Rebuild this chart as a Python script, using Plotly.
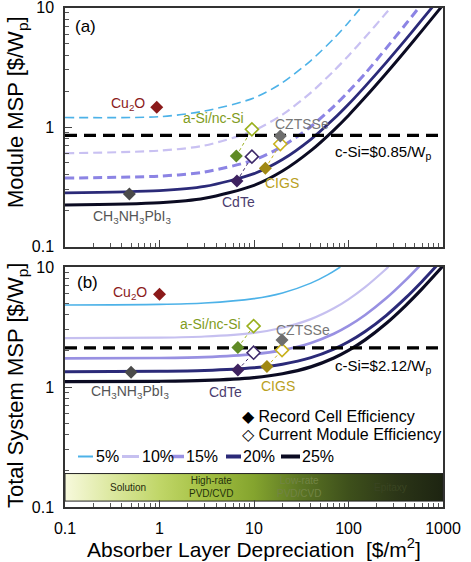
import math
import plotly.graph_objects as go

# ---------------- data ----------------
# (a) Module MSP curves
top_x_5 = [0.1, 1, 3, 10, 20, 40, 70, 100, 140]
top_y_5 = [1.2, 1.22, 1.36, 1.75, 2.35, 3.6, 5.5, 7.5, 10.3]
top_x_10 = [0.1, 1, 3, 10, 20, 40, 70, 100, 150, 250, 290]
top_y_10 = [0.603, 0.634, 0.70, 0.935, 1.27, 1.94, 2.95, 3.95, 5.63, 8.98, 10.3]
top_x_15 = [0.1, 1, 3, 10, 20, 40, 70, 100, 150, 250, 400, 580]
top_y_15 = [0.374, 0.388, 0.42, 0.53, 0.69, 1.01, 1.49, 1.98, 2.80, 4.55, 7.2, 10.4]
top_x_20 = [0.1, 1, 3, 10, 20, 40, 70, 100, 150, 250, 400, 600, 800]
top_y_20 = [0.281, 0.293, 0.318, 0.407, 0.534, 0.788, 1.17, 1.55, 2.19, 3.46, 5.36, 7.90, 10.44]
top_x_25 = [0.1, 1, 3, 10, 20, 40, 70, 100, 150, 250, 400, 600, 1000]
top_y_25 = [0.223, 0.232, 0.253, 0.325, 0.428, 0.634, 0.943, 1.25, 1.77, 2.80, 4.34, 6.40, 10.5]

# (b) Total system MSP curves
bot_x_5 = [0.1, 1, 3, 10, 20, 40, 60, 82]
bot_y_5 = [4.83, 4.88, 5.01, 5.45, 6.08, 7.34, 8.6, 10.0]
bot_x_10 = [0.1, 1, 3, 10, 20, 40, 70, 100, 150, 250, 265]
bot_y_10 = [2.553, 2.578, 2.635, 2.83, 3.12, 3.68, 4.53, 5.38, 6.80, 9.63, 10.05]
bot_x_15 = [0.1, 1, 3, 10, 20, 40, 70, 100, 150, 250, 400, 560]
bot_y_15 = [1.731, 1.745, 1.775, 1.88, 2.03, 2.33, 2.78, 3.23, 3.98, 5.48, 7.73, 10.13]
bot_x_20 = [0.1, 1, 3, 10, 20, 40, 70, 100, 150, 250, 400, 600, 850]
bot_y_20 = [1.341, 1.35, 1.371, 1.444, 1.548, 1.756, 2.07, 2.38, 2.90, 3.94, 5.50, 7.58, 10.18]
bot_x_25 = [0.1, 1, 3, 10, 20, 40, 70, 100, 150, 250, 400, 600, 1000]
bot_y_25 = [1.108, 1.116, 1.134, 1.198, 1.289, 1.471, 1.744, 2.017, 2.47, 3.38, 4.75, 6.57, 10.2]

csi_module = 0.85
csi_system = 2.12

materials = ["Cu2O", "CH3NH3PbI3", "CdTe", "a-Si/nc-Si", "CZTSSe", "CIGS"]
mat_labels = ["Cu<sub>2</sub>O", "CH<sub>3</sub>NH<sub>3</sub>PbI<sub>3</sub>", "CdTe",
              "a-Si/nc-Si", "CZTSSe", "CIGS"]
mat_colors = ["#8b1a1a", "#4a4a4a", "#3e2260", "#5f8a25", "#6e6e6e", "#a08812"]
label_colors = ["#8b1a1a", "#555555", "#4b3d6e", "#7f9c22", "#777777", "#b9a022"]

# record cell efficiency points
top_rec_x = [0.935, 0.48, 6.6, 6.5, 19, 13.2]
top_rec_y = [1.46, 0.275, 0.353, 0.572, 0.841, 0.451]
bot_rec_x = [1.0, 0.5, 6.75, 6.75, 19.8, 13.7]
bot_rec_y = [5.92, 1.33, 1.386, 2.13, 2.46, 1.48]

# current module efficiency points (CdTe, a-Si/nc-Si, CIGS)
mod_materials = ["CdTe", "a-Si/nc-Si", "CIGS"]
mod_edge = ["#3e2a6a", "#9ab01e", "#c9b21c"]
top_mod_x = [9.5, 9.5, 19]
top_mod_y = [0.565, 0.956, 0.72]
bot_mod_x = [9.9, 9.9, 19.8]
bot_mod_y = [1.93, 3.22, 2.03]

# label positions (data coords)
top_lab_x = [0.465, 0.513, 6.8, 3.7, 32.4, 19.9]
top_lab_y = [1.56, 0.177, 0.236, 1.19, 1.06, 0.34]
bot_lab_x = [0.488, 0.488, 4.95, 3.45, 33, 18.1]
bot_lab_y = [6.07, 0.908, 0.908, 3.35, 2.99, 1.02]

eff_names = ["5%", "10%", "15%", "20%", "25%"]
eff_colors_top = ["#4db2e8", "#c9c1f2", "#8c84e4", "#2b2a78", "#0b0b22"]
eff_colors_bot = ["#4db2e8", "#c6c0f0", "#9890e2", "#2b2a78", "#0b0b22"]

bar_x = [0.1, 1000]
bar_y = [0.112, 0.19]
bar_labels = ["Solution", "High-rate<br>PVD/CVD", "Low-rate<br>PVD/CVD", "Epitaxy"]
bar_label_x = [0.46, 3.5, 30, 280]

# ---------------- figure ----------------
FONT = "Liberation Sans, Arial, sans-serif"
L = math.log10
fig = go.Figure()

top_curves = [(top_x_5, top_y_5), (top_x_10, top_y_10), (top_x_15, top_y_15),
              (top_x_20, top_y_20), (top_x_25, top_y_25)]
bot_curves = [(bot_x_5, bot_y_5), (bot_x_10, bot_y_10), (bot_x_15, bot_y_15),
              (bot_x_20, bot_y_20), (bot_x_25, bot_y_25)]
top_styles = [("dash", 1.6), ("dash", 2.2), ("dash", 3.0), ("solid", 2.8), ("solid", 3.0)]
bot_widths = [1.6, 2.2, 2.6, 3.0, 3.2]

# gradient bar (bottom panel)
fig.add_trace(go.Scatter(
    x=[bar_x[0], bar_x[1], bar_x[1], bar_x[0], bar_x[0]],
    y=[bar_y[0], bar_y[0], bar_y[1], bar_y[1], bar_y[0]],
    xaxis="x2", yaxis="y2", mode="lines", fill="toself",
    fillgradient=dict(type="horizontal", colorscale=[
        [0.0, "#f7f9dc"], [0.11, "#dfeaa6"], [0.25, "#c0d668"], [0.37, "#a4c043"],
        [0.5, "#84a42e"], [0.62, "#5c7624"], [0.75, "#3e501b"], [0.88, "#2b3517"],
        [1.0, "#1d2411"]]),
    line=dict(color="#222222", width=1), hoverinfo="skip", showlegend=False))

for i, (cx, cy) in enumerate(top_curves):
    dash, w = top_styles[i]
    fig.add_trace(go.Scatter(x=cx, y=cy, xaxis="x", yaxis="y", mode="lines",
                             line=dict(color=eff_colors_top[i], width=w,
                                       dash="solid" if dash == "solid" else "9px,5px",
                                       shape="spline", smoothing=0.8),
                             showlegend=False, hoverinfo="skip"))
for i, (cx, cy) in enumerate(bot_curves):
    fig.add_trace(go.Scatter(x=cx, y=cy, xaxis="x2", yaxis="y2", mode="lines",
                             line=dict(color=eff_colors_bot[i], width=bot_widths[i],
                                       shape="spline", smoothing=0.8),
                             showlegend=False, hoverinfo="skip"))

# c-Si reference lines
fig.add_trace(go.Scatter(x=[0.1, 1000], y=[csi_module, csi_module], xaxis="x", yaxis="y",
                         mode="lines", line=dict(color="black", width=3.2, dash="12px,7px"),
                         showlegend=False, hoverinfo="skip"))
fig.add_trace(go.Scatter(x=[0.1, 1000], y=[csi_system, csi_system], xaxis="x2", yaxis="y2",
                         mode="lines", line=dict(color="black", width=3.2, dash="12px,7px"),
                         showlegend=False, hoverinfo="skip"))

# connectors record -> module, then markers
for rx, ry, mx, my, xa, ya in [(top_rec_x, top_rec_y, top_mod_x, top_mod_y, "x", "y"),
                               (bot_rec_x, bot_rec_y, bot_mod_x, bot_mod_y, "x2", "y2")]:
    for j, m in enumerate(mod_materials):
        k = materials.index(m)
        fig.add_trace(go.Scatter(x=[rx[k], mx[j]], y=[ry[k], my[j]], xaxis=xa, yaxis=ya,
                                 mode="lines", line=dict(color=mod_edge[j], width=1, dash="dot"),
                                 showlegend=False, hoverinfo="skip"))
    fig.add_trace(go.Scatter(x=mx, y=my, xaxis=xa, yaxis=ya, mode="markers",
                             marker=dict(symbol="diamond", size=10, color="white",
                                         line=dict(color=mod_edge, width=1.6)),
                             showlegend=False, hoverinfo="skip"))
    fig.add_trace(go.Scatter(x=rx, y=ry, xaxis=xa, yaxis=ya, mode="markers",
                             marker=dict(symbol="diamond", size=10, color=mat_colors,
                                         line=dict(width=0)),
                             showlegend=False, hoverinfo="skip"))

C = dict(xanchor="center", yanchor="middle", showarrow=False)
ann = []
for i in range(len(materials)):
    ann.append(dict(x=L(top_lab_x[i]), y=L(top_lab_y[i]), xref="x", yref="y", text=mat_labels[i],
                    font=dict(size=14, color=label_colors[i], family=FONT), **C))
    ann.append(dict(x=L(bot_lab_x[i]), y=L(bot_lab_y[i]), xref="x2", yref="y2", text=mat_labels[i],
                    font=dict(size=14, color=label_colors[i], family=FONT), **C))

ann += [
    dict(x=L(0.165), y=L(6.9), xref="x", yref="y", text="(a)",
         font=dict(size=17, color="black", family=FONT), **C),
    dict(x=L(0.171), y=L(7.36), xref="x2", yref="y2", text="(b)",
         font=dict(size=17, color="black", family=FONT), **C),
    dict(x=L(234), y=L(0.606), xref="x", yref="y", text="c-Si=$0.85/W<sub>p</sub>",
         font=dict(size=15, color="black", family=FONT), **C),
    dict(x=L(234), y=L(1.468), xref="x2", yref="y2", text="c-Si=$2.12/W<sub>p</sub>",
         font=dict(size=15, color="black", family=FONT), **C),
]
bar_label_colors = ["#1f2a0c", "#24320c", "#728444", "#3a4522"]
for i, t in enumerate(bar_labels):
    ann.append(dict(x=L(bar_label_x[i]), y=L(0.146), xref="x2", yref="y2", text=t,
                    font=dict(size=10, color=bar_label_colors[i], family=FONT), **C))

# legend (custom)
W, H = 471.0, 562.0
def px(xp):
    return xp / W
def py(yp):
    return 1 - yp / H

ann += [
    dict(x=px(240), y=py(416.5), xref="paper", yref="paper", xanchor="left", yanchor="middle",
         text="◆ Record Cell Efficiency", showarrow=False, font=dict(size=16, color="black", family=FONT)),
    dict(x=px(240), y=py(434.5), xref="paper", yref="paper", xanchor="left", yanchor="middle",
         text="◇ Current Module Efficiency", showarrow=False, font=dict(size=16, color="black", family=FONT)),
]
shapes = []
leg_line_x = [(78, 93), (122, 139), (171, 184), (226, 241), (281, 300)]
leg_text_x = [94, 140, 184, 241, 300]
leg_w = [2, 3, 3.5, 4, 4]
for i, name in enumerate(eff_names):
    shapes.append(dict(type="line", xref="paper", yref="paper", x0=px(leg_line_x[i][0]),
                       x1=px(leg_line_x[i][1]), y0=py(456.5), y1=py(456.5),
                       line=dict(color=eff_colors_bot[i], width=leg_w[i])))
    ann.append(dict(x=px(leg_text_x[i]), y=py(456.5), xref="paper", yref="paper",
                    xanchor="left", yanchor="middle", text=name, showarrow=False,
                    font=dict(size=16, color="black", family=FONT)))

# axis titles
ann += [
    dict(x=px(17), y=py(112), xref="paper", yref="paper", textangle=-90,
         text="Module MSP [$/W<sub>p</sub>]",
         font=dict(size=22, color="black", family=FONT), **C),
    dict(x=px(17), y=py(386), xref="paper", yref="paper", textangle=-90,
         text="Total System MSP [$/W<sub>p</sub>]",
         font=dict(size=22, color="black", family=FONT), **C),
    dict(x=px(254), y=py(548), xref="paper", yref="paper",
         text="Absorber Layer Depreciation  [$/m<sup>2</sup>]",
         font=dict(size=21, color="black", family=FONT), **C),
]

x_major = [0.1, 1, 10, 100, 1000]
x_minor = [k * 10 ** d for d in range(-1, 3) for k in range(2, 10)]
y_major = [0.1, 1, 10]
y_minor = [k * 10 ** d for d in range(-1, 1) for k in range(2, 10)]

common = dict(type="log", showgrid=False, zeroline=False, showline=True, mirror=True,
              automargin=False, ticklabeloverflow="allow",
              linecolor="#333333", linewidth=1.5, ticks="inside", ticklen=7, tickwidth=1,
              tickcolor="#444444", tickfont=dict(size=16, color="black", family=FONT))
xdom = [65 / W, 443 / W]
fig.update_layout(
    width=471, height=562, margin=dict(l=0, r=0, t=0, b=0, pad=0, autoexpand=False),
    paper_bgcolor="white", plot_bgcolor="white", showlegend=False,
    xaxis=dict(domain=xdom, anchor="y", range=[-1, 3], tickvals=x_major, showticklabels=False,
               minor=dict(ticks="inside", ticklen=4, tickvals=x_minor, tickcolor="#555555"), **common),
    yaxis=dict(domain=[1 - 246.5 / H, 1 - 7.5 / H], anchor="x", range=[-1, 1], tickvals=y_major,
               ticktext=["0.1", "1", "10"], ticklabelstandoff=6,
               minor=dict(ticks="inside", ticklen=4, tickvals=y_minor, tickcolor="#555555"), **common),
    xaxis2=dict(domain=xdom, anchor="y2", range=[-1, 3], tickvals=x_major,
                ticktext=["0.1", "1", "10", "100", "1000"], ticklabelstandoff=6,
                minor=dict(ticks="inside", ticklen=4, tickvals=x_minor, tickcolor="#555555"), **common),
    yaxis2=dict(domain=[1 - 507 / H, 1 - 267 / H], anchor="x2", range=[-1, 1], tickvals=y_major,
                ticktext=["0.1", "1", "10"], ticklabelstandoff=6,
                minor=dict(ticks="inside", ticklen=4, tickvals=y_minor, tickcolor="#555555"), **common),
    annotations=ann, shapes=shapes,
)

fig.write_html("out.html")
